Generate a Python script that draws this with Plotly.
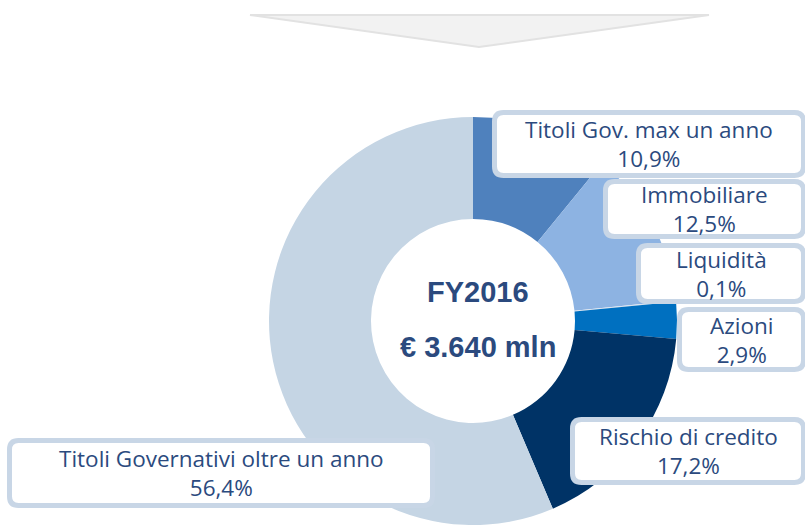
import plotly.graph_objects as go

# ---- data ----
categories = [
    "Titoli Gov. max un anno",
    "Immobiliare",
    "Liquidità",
    "Azioni",
    "Rischio di credito",
    "Titoli Governativi oltre un anno",
]
shares = [10.9, 12.5, 0.1, 2.9, 17.2, 56.4]
period = "FY2016"
total_mln = "3.640"

# ---- style ----
W, H = 805, 528
slice_colors = ["#4F81BD", "#8DB3E2", "#D9E2EE", "#0070C0", "#003366", "#C5D5E4"]
text_color = "#2B4A7E"
box_line = "#C8D6E6"
FONT = "Open Sans"

# label boxes (outer pixel extents: x0, y0, x1, y1)
boxes = [
    (492, 110, 806, 178),
    (603, 179, 806, 239),
    (636, 243, 806, 304),
    (677, 307, 806, 372),
    (570, 417, 806, 485),
    (7, 438, 435, 508),
]


def px(x):
    return x / W


def py(y):
    return 1 - y / H


def rounded_path(x0, y0, x1, y1, r):
    rx, ry = r / W, r / H
    X0, X1 = px(x0), px(x1)
    Y0, Y1 = py(y0), py(y1)  # Y0 top, Y1 bottom (Y0 > Y1)
    return (
        f"M {X0+rx},{Y0} L {X1-rx},{Y0} Q {X1},{Y0} {X1},{Y0-ry} "
        f"L {X1},{Y1+ry} Q {X1},{Y1} {X1-rx},{Y1} "
        f"L {X0+rx},{Y1} Q {X0},{Y1} {X0},{Y1+ry} "
        f"L {X0},{Y0-ry} Q {X0},{Y0} {X0+rx},{Y0} Z"
    )


cx, cy, R = 473, 321, 204

fig = go.Figure(
    go.Pie(
        labels=categories,
        values=shares,
        sort=False,
        direction="clockwise",
        rotation=0,
        hole=0.5,
        marker=dict(colors=slice_colors, line=dict(width=0)),
        textinfo="none",
        hoverinfo="label+percent",
        domain=dict(x=[px(cx - R), px(cx + R)], y=[py(cy + R), py(cy - R)]),
        showlegend=False,
    )
)

shapes = []
# top chevron arrow
shapes.append(
    dict(
        type="path",
        xref="paper",
        yref="paper",
        path=f"M {px(250)},{py(15)} L {px(709)},{py(15)} L {px(479)},{py(47)} Z",
        fillcolor="#F2F2F2",
        line=dict(color="#E2E2E2", width=2),
        layer="above",
    )
)

annotations = []
for (x0, y0, x1, y1), cat, val in zip(boxes, categories, shares):
    inset = 2.5
    shapes.append(
        dict(
            type="path",
            xref="paper",
            yref="paper",
            path=rounded_path(x0 + inset, y0 + inset, x1 - inset, y1 - inset, 9),
            fillcolor="white",
            line=dict(color=box_line, width=5),
            layer="above",
        )
    )
    pct = f"{val:.1f}%".replace(".", ",")
    annotations.append(
        dict(
            x=px((x0 + x1) / 2),
            y=py((y0 + y1) / 2),
            xref="paper",
            yref="paper",
            text=f"{cat}<br>{pct}",
            showarrow=False,
            align="center",
            xanchor="center",
            yanchor="middle",
            font=dict(family=FONT, size=22.5, color=text_color),
        )
    )

annotations.append(
    dict(
        x=px(478), y=py(292), xref="paper", yref="paper",
        text=f"<b>{period}</b>", showarrow=False,
        font=dict(family="Liberation Sans", size=29, color=text_color),
    )
)
annotations.append(
    dict(
        x=px(478), y=py(347), xref="paper", yref="paper",
        text=f"<b>€ {total_mln} mln</b>", showarrow=False,
        font=dict(family="Liberation Sans", size=29, color=text_color),
    )
)

fig.update_layout(
    width=W,
    height=H,
    margin=dict(l=0, r=0, t=0, b=0),
    paper_bgcolor="white",
    plot_bgcolor="white",
    shapes=shapes,
    annotations=annotations,
)

fig.write_html(
    "out.html",
    config={"displayModeBar": False},
    post_script="document.body.style.margin='0';document.body.style.overflow='hidden';",
)
